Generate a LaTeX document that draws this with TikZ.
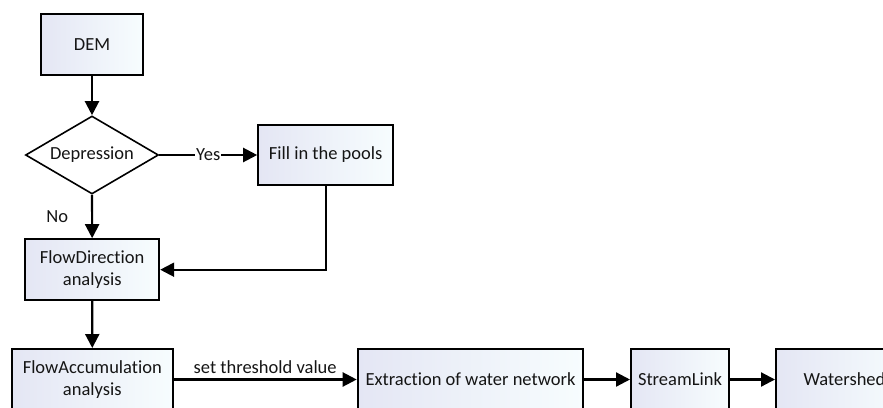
\documentclass[tikz,border=0pt]{standalone}
\usepackage{fontspec}
\setmainfont{Carlito}[Ligatures=NoCommon]
\usepackage{tikz}
\usetikzlibrary{arrows.meta}
\usetikzlibrary{shapes.geometric}
\definecolor{boxleft}{HTML}{E4E6F4}
\definecolor{boxright}{HTML}{F7FDFE}
\definecolor{txtgray}{HTML}{151515}
\tikzset{
    stepbox/.style={draw=black, line width=2pt, left color=boxleft, right color=boxright, inner sep=0pt, align=center, text=txtgray},
    askbox/.style={draw=black, line width=1.6pt, fill=white, shape=diamond, aspect=1.7, inner sep=0pt, text=txtgray},
    flow/.style={black, line width=2.2pt, -{Triangle[length=14pt,width=14pt]}},
    lbl/.style={text=txtgray, inner sep=1pt}
}

\begin{document}
\begin{tikzpicture}[x=1pt,y=-1pt,font=\fontsize{18.5}{22}\selectfont]
    \useasboundingbox (0,0) rectangle (883,407);
    \clip (0,0) rectangle (883,407);
    \node[stepbox, minimum width=102pt, minimum height=61pt] (dem) at (92,44.5) {DEM};
    \node[askbox, minimum width=133pt, minimum height=78pt] (dep) at (92,155) {Depression};
    \node[stepbox, minimum width=135pt, minimum height=60pt] (fill) at (325.7,155) {Fill in the pools};
    \node[stepbox, minimum width=134pt, minimum height=61pt] (fdir) at (92.2,269.7) {FlowDirection\\analysis};
    \node[stepbox, minimum width=160.7pt, minimum height=61pt] (facc) at (92.3,379.5) {FlowAccumulation\\analysis};
    \node[stepbox, minimum width=225.6pt, minimum height=61pt] (extr) at (470.5,379.5) {Extraction of water network};
    \node[stepbox, minimum width=98pt, minimum height=61pt] (slink) at (680,379.5) {StreamLink};
    \node[stepbox, minimum width=137pt, minimum height=61pt] (wshed) at (844.5,379.5) {Watershed};
    \draw[flow] (dem) -- (dep);
    \draw[flow] (dep) -- node[lbl, fill=white] {Yes} (fill);
    \draw[flow] (dep) -- node[lbl, left=22pt] {No} (fdir);
    \draw[flow] (fill.south) |- (fdir.east);
    \draw[flow] (fdir) -- (facc);
    \draw[flow] (facc) -- node[lbl, above=4pt] {set threshold value} (extr);
    \draw[flow] (extr) -- (slink);
    \draw[flow] (slink) -- (wshed);
\end{tikzpicture}
\end{document}
